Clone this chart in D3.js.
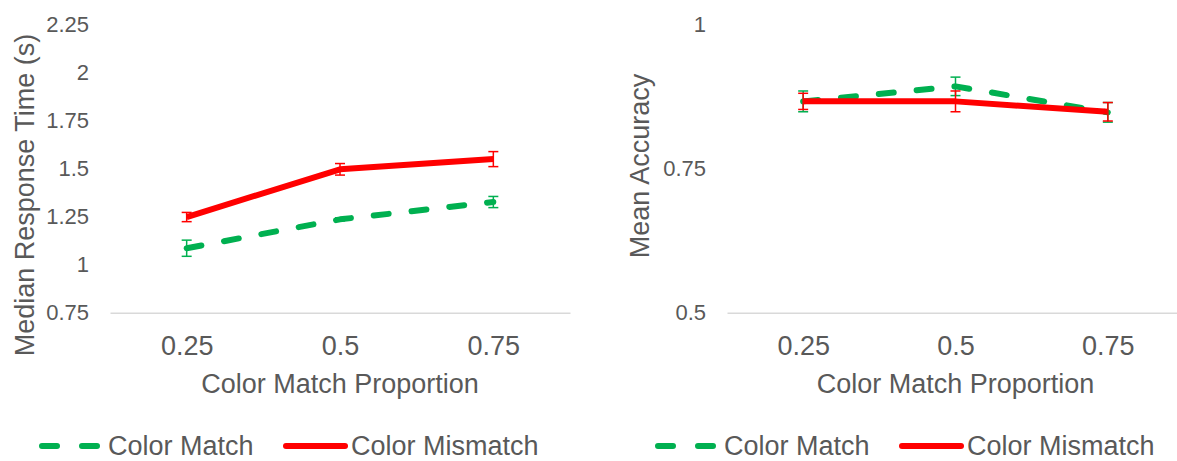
<!DOCTYPE html>
<html>
<head>
<meta charset="utf-8">
<script src="https://cdn.jsdelivr.net/npm/d3@7"></script>
<style>
  html, body { margin: 0; padding: 0; background: #fff; }
  svg { display: block; font-family: "Liberation Sans", Arial, sans-serif; }
</style>
</head>
<body>
<svg id="chart" width="1177" height="461"></svg>
<script>
// Color match proportion conditions (x categories)
const categories = ["0.25", "0.5", "0.75"];

// Median response time (s)
const rtMatch = [1.085, 1.235, 1.325];
const rtMatchErr = [0.042, 0.008, 0.029];
const rtMismatch = [1.247, 1.495, 1.548];
const rtMismatchErr = [0.024, 0.030, 0.039];
const rtTicks = [0.75, 1, 1.25, 1.5, 1.75, 2, 2.25];

// Mean accuracy
const accMatch = [0.866, 0.892, 0.847];
const accMatchErr = [0.018, 0.016, 0.017];
const accMismatch = [0.866, 0.866, 0.848];
const accMismatchErr = [0.014, 0.018, 0.016];
const accTicks = [0.5, 0.75, 1];

const seriesNames = ["Color Match", "Color Mismatch"];

const GREEN = "#00B050";
const RED = "#FF0000";
const TEXT = "#595959";
const AXIS = "#d9d9d9";

const svg = d3.select("#chart");

function panel(opts) {
  const g = svg.append("g");
  const x = d3.scalePoint().domain(categories).range(opts.xRange).padding(0.5);
  const y = d3.scaleLinear().domain(opts.yDomain).range([312.7, 24]);

  // category axis with a light baseline
  const xAxis = g.append("g")
    .attr("transform", `translate(0,${y(opts.yDomain[0])})`)
    .call(d3.axisBottom(x).tickSize(0).tickPadding(23));
  xAxis.select(".domain").attr("stroke", AXIS).attr("stroke-width", 1.5);
  xAxis.selectAll("text").attr("fill", TEXT).style("font-size", "27px")
    .style("font-family", "'Liberation Sans', Arial, sans-serif");

  // value axis: labels only
  const yAxis = g.append("g")
    .attr("transform", `translate(${opts.xRange[0]},0)`)
    .call(d3.axisLeft(y).tickValues(opts.ticks).tickSize(0).tickPadding(21)
      .tickFormat(d => String(d)));
  yAxis.select(".domain").remove();
  yAxis.selectAll("text").attr("fill", TEXT).style("font-size", "22px")
    .style("font-family", "'Liberation Sans', Arial, sans-serif");

  // axis titles
  g.append("text")
    .attr("x", (opts.xRange[0] + opts.xRange[1]) / 2)
    .attr("y", 393)
    .attr("text-anchor", "middle")
    .attr("fill", TEXT)
    .style("font-size", "27px")
    .text("Color Match Proportion");

  g.append("text")
    .attr("transform", `translate(${opts.yTitleX},${opts.yTitleY}) rotate(-90)`)
    .attr("text-anchor", "middle")
    .attr("dy", "0.35em")
    .attr("fill", TEXT)
    .style("font-size", "27px")
    .text(opts.yTitle);

  const line = d3.line().x((d, i) => x(categories[i])).y(d => y(d));

  // series lines
  g.append("path").datum(opts.match)
    .attr("d", line).attr("fill", "none")
    .attr("stroke", GREEN).attr("stroke-width", 6)
    .attr("stroke-linecap", "round").attr("stroke-linejoin", "round")
    .attr("stroke-dasharray", "15 23");

  g.append("path").datum(opts.mismatch)
    .attr("d", line).attr("fill", "none")
    .attr("stroke", RED).attr("stroke-width", 6)
    .attr("stroke-linejoin", "round");

  // error bars
  function errorBars(vals, errs, color) {
    const eg = g.append("g").attr("stroke", color).attr("stroke-width", 1.5).attr("fill", "none");
    vals.forEach((v, i) => {
      const cx = x(categories[i]);
      const top = y(v + errs[i]);
      const bot = y(v - errs[i]);
      eg.append("line").attr("x1", cx).attr("x2", cx).attr("y1", top).attr("y2", bot);
      eg.append("line").attr("x1", cx - 5).attr("x2", cx + 5).attr("y1", top).attr("y2", top);
      eg.append("line").attr("x1", cx - 5).attr("x2", cx + 5).attr("y1", bot).attr("y2", bot);
    });
  }
  errorBars(opts.match, opts.matchErr, GREEN);
  errorBars(opts.mismatch, opts.mismatchErr, RED);

  // legend
  const lg = g.append("g").attr("transform", `translate(${opts.legendX},446)`);
  lg.append("line").attr("x1", 3).attr("x2", 58).attr("y1", 0).attr("y2", 0)
    .attr("stroke", GREEN).attr("stroke-width", 6)
    .attr("stroke-linecap", "round").attr("stroke-dasharray", "15 25");
  lg.append("text").attr("x", 69).attr("y", 9).attr("fill", TEXT)
    .style("font-size", "27px").text(seriesNames[0]);
  lg.append("line").attr("x1", 247).attr("x2", 306).attr("y1", 0).attr("y2", 0)
    .attr("stroke", RED).attr("stroke-width", 6).attr("stroke-linecap", "round");
  lg.append("text").attr("x", 312).attr("y", 9).attr("fill", TEXT)
    .style("font-size", "27px").text(seriesNames[1]);
}

panel({
  xRange: [110, 570],
  yDomain: [0.75, 2.25],
  ticks: rtTicks,
  match: rtMatch, matchErr: rtMatchErr,
  mismatch: rtMismatch, mismatchErr: rtMismatchErr,
  yTitle: "Median Response Time (s)",
  yTitleX: 25, yTitleY: 195,
  legendX: 39
});

panel({
  xRange: [727, 1184],
  yDomain: [0.5, 1],
  ticks: accTicks,
  match: accMatch, matchErr: accMatchErr,
  mismatch: accMismatch, mismatchErr: accMismatchErr,
  yTitle: "Mean Accuracy",
  yTitleX: 640, yTitleY: 166,
  legendX: 655
});
</script>
</body>
</html>
